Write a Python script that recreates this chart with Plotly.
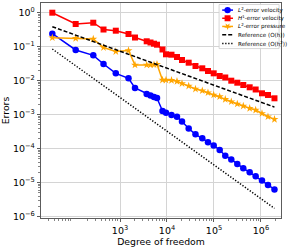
import numpy as np
import plotly.graph_objects as go

# Degrees of freedom (x)
dofs = [36.3, 114, 270, 446, 814, 1517, 2085, 3700, 4457, 5290, 6125, 8020, 9525,
        12470, 16320, 20860, 28960, 40380, 56370, 74500, 98600, 132200, 173900,
        233400, 313300, 420000, 575000, 771000, 1050000, 1409000, 1937000]

l2_velocity = [0.238, 0.0791, 0.0552, 0.0307, 0.0163, 0.01165, 0.00604, 0.00403,
               0.00364, 0.00329, 0.00307, 0.00127, 0.001135, 0.000972, 0.000867,
               0.000627, 0.000390, 0.000264, 0.000201, 0.0001534, 0.0001236,
               9.10e-5, 6.19e-5, 4.79e-5, 3.53e-5, 2.64e-5, 2.01e-5, 1.54e-5,
               1.16e-5, 8.53e-6, 6.29e-6]

h1_velocity = [0.986, 0.459, 0.501, 0.316, 0.292, 0.233, 0.184, 0.1425, 0.1313,
               0.1211, 0.1132, 0.0818, 0.0591, 0.0575, 0.0492, 0.0402, 0.0335,
               0.0268, 0.0229, 0.0191, 0.0163, 0.0136, 0.0123, 0.00991, 0.00865,
               0.00741, 0.00634, 0.00546, 0.00422, 0.00377, 0.00301]

l2_pressure = [0.1816, 0.1746, 0.1665, 0.0936, 0.0714, 0.0764, 0.0287, 0.0287,
               0.0287, 0.0292, 0.0301, 0.01038, 0.01038, 0.01018, 0.00951, 0.00820,
               0.00692, 0.00565, 0.00504, 0.00440, 0.00377, 0.00336, 0.00281,
               0.00239, 0.00205, 0.00179, 0.00153, 0.00136, 0.00108, 0.000867,
               0.000727]

ref_x = [36.3, 1937000]
ref_h = [0.383, 0.00166]
ref_h2 = [0.0846, 1.75e-6]

y_tickvals = [1e0, 1e-1, 1e-2, 1e-3, 1e-4, 1e-5, 1e-6]
y_ticktext = ["10<sup>0</sup>", "10<sup>\u22121</sup>", "10<sup>\u22122</sup>",
              "10<sup>\u22123</sup>", "10<sup>\u22124</sup>", "10<sup>\u22125</sup>",
              "10<sup>\u22126</sup>"]
x_tickvals = [1e3, 1e4, 1e5, 1e6]
x_ticktext = ["10<sup>3</sup>", "10<sup>4</sup>", "10<sup>5</sup>", "10<sup>6</sup>"]

legend_labels = ["<i>L</i><sup>2</sup>-error velocity", "<i>H</i><sup>1</sup>-error velocity",
                 "<i>L</i><sup>2</sup>-error pressure", "Reference (O(h))",
                 "Reference (O(h<sup>2</sup>))"]

FONT = "DejaVu Sans"
BLUE, RED, ORANGE = "#0000ff", "#ff0000", "#ffa500"

fig = go.Figure()
fig.add_trace(go.Scatter(x=dofs, y=l2_velocity, mode="lines+markers",
                         line=dict(color=BLUE, width=1.5),
                         marker=dict(symbol="circle", size=6.5, color=BLUE)))
fig.add_trace(go.Scatter(x=dofs, y=h1_velocity, mode="lines+markers",
                         line=dict(color=RED, width=1.5),
                         marker=dict(symbol="square", size=6, color=RED)))
fig.add_trace(go.Scatter(x=dofs, y=l2_pressure, mode="lines+markers",
                         line=dict(color=ORANGE, width=1.5),
                         marker=dict(symbol="star", size=6, color=ORANGE)))
fig.add_trace(go.Scatter(x=ref_x, y=ref_h, mode="lines",
                         line=dict(color="black", width=1.5, dash="4px,2px")))
fig.add_trace(go.Scatter(x=ref_x, y=ref_h2, mode="lines",
                         line=dict(color="black", width=1.5, dash="1.3px,1.7px")))

# minor ticks (2..9 per decade)
minor_x = [m * 10 ** d for d in range(1, 7) for m in range(2, 10)]
minor_y = [m * 10.0 ** d for d in range(-7, 1) for m in range(2, 10)]

axis_common = dict(showline=True, linecolor="#333", linewidth=0.8, mirror=True,
                   ticks="outside", ticklen=3.5, tickwidth=0.8, tickcolor="#333",
                   showgrid=True, gridcolor="#d4d4d4", gridwidth=1, zeroline=False,
                   tickfont=dict(family=FONT, size=9.5, color="black"))

fig.update_xaxes(type="log", range=[1.319, 6.426], tickmode="array",
                 tickvals=x_tickvals, ticktext=x_ticktext,
                 minor=dict(tickmode="array", tickvals=minor_x, ticks="outside",
                            ticklen=2, tickwidth=0.6, tickcolor="#333", showgrid=False),
                 title=dict(text="Degree of freedom", standoff=2,
                            font=dict(family=FONT, size=9.3, color="black")),
                 **axis_common)
fig.update_yaxes(type="log", range=[-6.039, 0.279], tickmode="array",
                 tickvals=y_tickvals, ticktext=y_ticktext,
                 minor=dict(tickmode="array", tickvals=minor_y, ticks="outside",
                            ticklen=2, tickwidth=0.6, tickcolor="#333", showgrid=False),
                 title=dict(text="Errors", standoff=3,
                            font=dict(family=FONT, size=9.3, color="black")),
                 **axis_common)

# ---- compact legend drawn as layout decoration ----
shapes = []
annotations = []
shapes.append(dict(type="rect", xref="paper", yref="paper", x0=0.742, x1=0.992,
                   y0=0.788, y1=0.993, line=dict(color="#cccccc", width=0.8),
                   fillcolor="rgba(255,255,255,0.85)", layer="above"))
row_y = [0.967, 0.929, 0.891, 0.852, 0.812]
colors = [BLUE, RED, ORANGE, "black", "black"]
dashes = ["solid", "solid", "solid", "4px,2px", "1.3px,1.7px"]
lx0, lx1, lxm = 0.755, 0.800, 0.7775
for i, (yy, c, d, lab) in enumerate(zip(row_y, colors, dashes, legend_labels)):
    shapes.append(dict(type="line", xref="paper", yref="paper", x0=lx0, x1=lx1,
                       y0=yy, y1=yy, line=dict(color=c, width=1.5, dash=d), layer="above"))
    annotations.append(dict(xref="paper", yref="paper", x=0.811, y=yy, xanchor="left",
                            yanchor="middle", text=lab, showarrow=False,
                            font=dict(family=FONT, size=5.6, color="black")))
# legend markers
shapes.append(dict(type="circle", xref="paper", yref="paper", xsizemode="pixel",
                   ysizemode="pixel", xanchor=lxm, yanchor=row_y[0], x0=-3.2, x1=3.2,
                   y0=-3.2, y1=3.2, fillcolor=BLUE, line=dict(width=0), layer="above"))
shapes.append(dict(type="rect", xref="paper", yref="paper", xsizemode="pixel",
                   ysizemode="pixel", xanchor=lxm, yanchor=row_y[1], x0=-3, x1=3,
                   y0=-3, y1=3, fillcolor=RED, line=dict(width=0), layer="above"))
ang = np.arange(10) * np.pi / 5 - np.pi / 2
rad = np.where(np.arange(10) % 2 == 0, 3.6, 1.5)
pts = [f"{r * np.cos(a):.2f},{r * np.sin(a):.2f}" for r, a in zip(rad, ang)]
star_path = "M" + " L".join(pts) + " Z"
shapes.append(dict(type="path", xref="paper", yref="paper", xsizemode="pixel",
                   ysizemode="pixel", xanchor=lxm, yanchor=row_y[2], path=star_path,
                   fillcolor=ORANGE, line=dict(width=0), layer="above"))

fig.update_layout(width=289, height=247, showlegend=False,
                  margin=dict(l=41, r=8, t=3, b=29, pad=0),
                  paper_bgcolor="white", plot_bgcolor="white",
                  font=dict(family=FONT, color="black"),
                  shapes=shapes, annotations=annotations)

fig.write_html("out.html",
               config={"displayModeBar": False, "staticPlot": True},
               post_script="document.body.style.margin='0';"
                           "document.body.style.padding='0';"
                           "document.body.style.overflow='hidden';")
